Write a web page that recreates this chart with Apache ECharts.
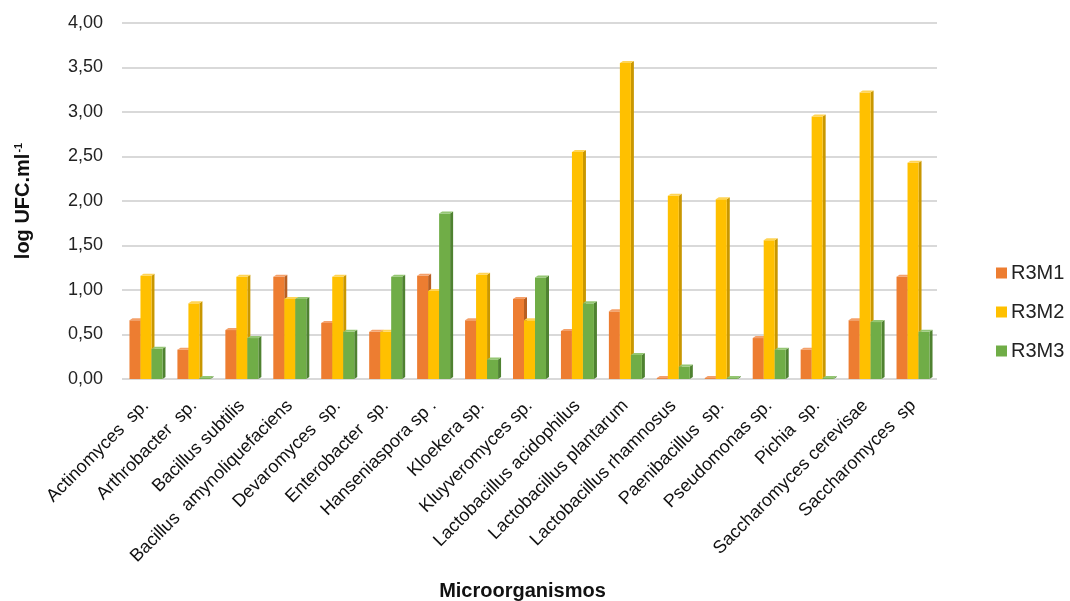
<!DOCTYPE html>
<html>
<head>
<meta charset="utf-8">
<script src="https://cdn.jsdelivr.net/npm/echarts@6/dist/echarts.min.js"></script>
<style>
  html, body { margin: 0; padding: 0; background: #fff; }
  #chart { width: 1070px; height: 601px; }
</style>
</head>
<body>
<div id="chart"></div>
<script>
const categories = [
  'Actinomyces  sp.', 'Arthrobacter  sp.', 'Bacillus subtilis', 'Bacillus  amynoliquefaciens',
  'Devaromyces  sp.', 'Enterobacter  sp.', 'Hanseniaspora sp .', 'Kloekera sp.',
  'Kluyveromyces sp.', 'Lactobacillus acidophilus', 'Lactobacillus plantarum',
  'Lactobacillus rhamnosus', 'Paenibacillus  sp.', 'Pseudomonas sp.', 'Pichia  sp.',
  'Saccharomyces cerevisae', 'Saccharomyces  sp'
];
const r3m1 = [0.66, 0.33, 0.55, 1.15, 0.63, 0.53, 1.16, 0.66, 0.90, 0.54, 0.76, 0.01, 0.01, 0.46, 0.33, 0.66, 1.15];
const r3m2 = [1.16, 0.85, 1.15, 0.90, 1.15, 0.53, 0.99, 1.17, 0.66, 2.55, 3.55, 2.06, 2.02, 1.56, 2.95, 3.22, 2.43];
const r3m3 = [0.34, 0.01, 0.46, 0.90, 0.53, 1.15, 1.86, 0.22, 1.14, 0.85, 0.27, 0.14, 0.01, 0.33, 0.01, 0.64, 0.53];

const seriesNames = ['R3M1', 'R3M2', 'R3M3'];
const seriesColors = [
  { front: '#ED7D31', side: '#B85F22', top: '#F4A06A' },
  { front: '#FFC000', side: '#C99700', top: '#FFD455' },
  { front: '#70AD47', side: '#4F8231', top: '#94C673' }
];

const FONT = '"Liberation Sans", Arial, Helvetica, sans-serif';
const BAR_W = 11;
const DEPTH_X = 3;
const DEPTH_Y = 2;

// Draws a bar with a front face, a darker right side and a light top, for a pseudo-3D look
function makeRenderer(k) {
  const c = seriesColors[k];
  return function (params, api) {
    const ci = api.value(0);
    const v = api.value(1);
    const base = api.coord([ci, 0]);
    const top = api.coord([ci, v]);
    const x0 = base[0] + (k - 1) * BAR_W - BAR_W / 2;
    const x1 = x0 + BAR_W;
    const yT = top[1];
    const yB = base[1];
    return {
      type: 'group',
      children: [
        {
          type: 'polygon',
          shape: { points: [[x1, yT], [x1 + DEPTH_X, yT - DEPTH_Y], [x1 + DEPTH_X, yB - DEPTH_Y], [x1, yB]] },
          style: { fill: c.side }
        },
        {
          type: 'rect',
          shape: { x: x0, y: yT, width: BAR_W, height: yB - yT },
          style: { fill: c.front }
        },
        {
          type: 'polygon',
          shape: { points: [[x0, yT], [x0 + DEPTH_X, yT - DEPTH_Y], [x1 + DEPTH_X, yT - DEPTH_Y], [x1, yT]] },
          style: { fill: c.top }
        }
      ]
    };
  };
}

const seriesData = [r3m1, r3m2, r3m3];

const chart = echarts.init(document.getElementById('chart'), null, { renderer: 'canvas' });
chart.setOption({
  backgroundColor: '#ffffff',
  animation: false,
  textStyle: { fontFamily: FONT },
  grid: { left: 122, right: 133, top: 23, bottom: 222, containLabel: false, outerBoundsMode: 'none' },
  legend: {
    orient: 'vertical',
    left: 991,
    top: 258,
    itemWidth: 11,
    itemHeight: 11,
    itemGap: 19,
    icon: 'rect',
    textStyle: { fontFamily: FONT, fontSize: 20, lineHeight: 20, color: '#222', padding: [0, 0, 0, -1] },
    data: seriesNames
  },
  xAxis: {
    type: 'category',
    data: categories,
    name: 'Microorganismos',
    nameLocation: 'middle',
    nameGap: 202,
    nameTextStyle: { fontFamily: FONT, fontSize: 20, fontWeight: 'bold', color: '#111', padding: [0, 14, 0, 0] },
    axisLine: { show: false },
    axisTick: { show: false },
    axisLabel: {
      interval: 0,
      rotate: 45,
      margin: 24,
      fontFamily: FONT,
      fontSize: 18,
      color: '#111'
    }
  },
  yAxis: {
    type: 'value',
    min: 0,
    max: 4,
    interval: 0.5,
    name: 'log UFC.ml{sup|-1}',
    nameLocation: 'middle',
    nameRotate: 90,
    nameGap: 89,
    nameTextStyle: {
      fontFamily: FONT, fontSize: 20, fontWeight: 'bold', color: '#111',
      rich: { sup: { fontFamily: FONT, fontSize: 11, fontWeight: 'bold', verticalAlign: 'top', padding: [0, 0, 9, 1] } }
    },
    axisLine: { show: false },
    axisTick: { show: false },
    axisLabel: {
      fontFamily: FONT,
      fontSize: 18,
      color: '#222',
      margin: 19,
      formatter: (v) => v.toFixed(2).replace('.', ',')
    },
    splitLine: { lineStyle: { color: '#D9D9D9', width: 2 } }
  },
  series: seriesNames.map((name, k) => ({
    name: name,
    type: 'custom',
    renderItem: makeRenderer(k),
    itemStyle: { color: seriesColors[k].front },
    encode: { x: 0, y: 1 },
    data: seriesData[k].map((v, i) => [i, v])
  }))
});
</script>
</body>
</html>
